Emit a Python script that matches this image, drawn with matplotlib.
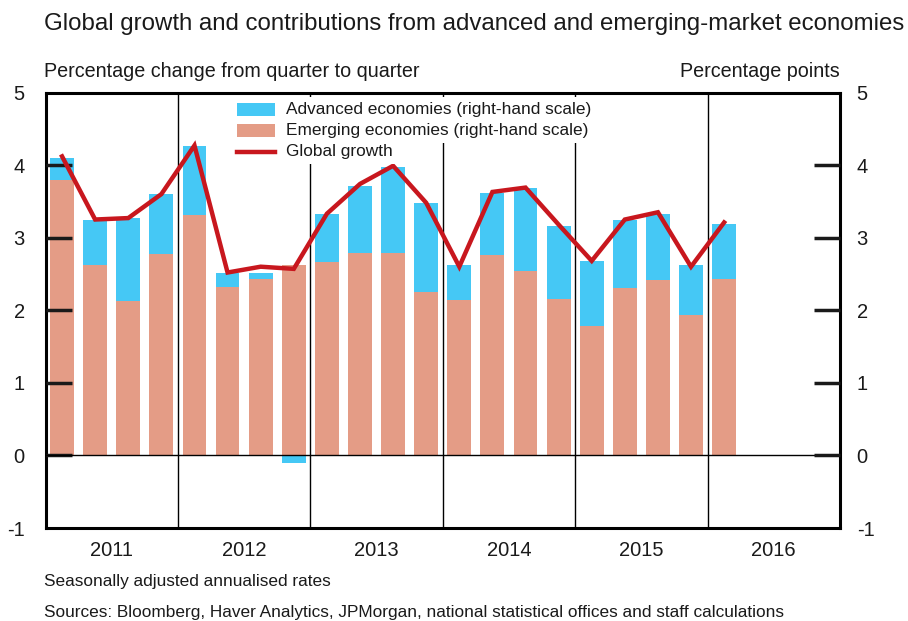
import matplotlib
matplotlib.use("Agg")
import matplotlib.pyplot as plt
from matplotlib.patches import Rectangle
from matplotlib.lines import Line2D

plt.rcParams['font.family'] = ['Liberation Sans', 'DejaVu Sans']

# Data (quarters 2011Q1 .. 2016Q1)
years = ['2011', '2012', '2013', '2014', '2015', '2016']
emerging = [3.80, 2.63, 2.13, 2.77, 3.31, 2.32, 2.43, 2.63, 2.66, 2.79, 2.79, 2.25,
            2.14, 2.76, 2.54, 2.15, 1.78, 2.30, 2.41, 1.94, 2.43]
advanced = [0.30, 0.62, 1.14, 0.83, 0.95, 0.20, 0.09, -0.10, 0.67, 0.92, 1.18, 1.23,
            0.48, 0.86, 1.15, 1.01, 0.90, 0.95, 0.92, 0.68, 0.76]
global_growth = [4.12, 3.25, 3.27, 3.60, 4.27, 2.52, 2.60, 2.57, 3.33, 3.74, 3.99, 3.48,
                 2.60, 3.63, 3.69, 3.18, 2.68, 3.25, 3.35, 2.60, 3.21]

BLUE = '#45C8F5'
SALMON = '#E49C86'
RED = '#C8171E'
TXT = '#1a1a1a'

W, H = 908, 621
fig = plt.figure(figsize=(W / 100, H / 100), dpi=100)
L, R, T, B = 45.5, 840, 92.5, 528
ax = fig.add_axes([L / W, 1 - B / H, (R - L) / W, (B - T) / H])
ax.set_axisbelow(False)

n = len(emerging)
x = [i + 0.5 for i in range(n)]
bw = 0.72
adv_bottom = [e if a >= 0 else 0 for e, a in zip(emerging, advanced)]
ax.bar(x, emerging, width=bw, color=SALMON, zorder=2)
ax.bar(x, advanced, width=bw, bottom=adv_bottom, color=BLUE, zorder=2)
ax.plot(x, global_growth, color=RED, lw=3.2, zorder=4, solid_joinstyle='miter')

ax.axhline(0, color='black', lw=1.0, zorder=3)
for k in range(1, len(years)):
    ax.axvline(4 * k, color='black', lw=1.0, zorder=1)

ax.set_xlim(0, 4 * len(years))
ax.set_ylim(-1, 5)
ax.set_yticks(range(-1, 6))
ax.set_yticklabels([str(v) for v in range(-1, 6)])
ax.set_xticks([4 * k + 2 for k in range(len(years))])
ax.set_xticklabels(years)
ax.tick_params(axis='x', length=0, pad=9, labelsize=14.5, colors=TXT)
ax.tick_params(axis='y', direction='in', length=19, width=2.5, pad=15,
               labelsize=14.5, colors=TXT)
for s in ax.spines.values():
    s.set_linewidth(2.2)

ax2 = ax.twinx()
ax2.set_ylim(-1, 5)
ax2.set_yticks(range(-1, 6))
ax2.set_yticklabels([str(v) for v in range(-1, 6)])
ax2.tick_params(axis='y', direction='in', length=19, width=2.5, pad=12,
                labelsize=14.5, colors=TXT)
for s in ax2.spines.values():
    s.set_visible(False)

for a in (ax, ax2):
    for t, v in zip(a.yaxis.get_major_ticks(), range(-1, 6)):
        if v in (-1, 5):
            t.tick1line.set_visible(False)
            t.tick2line.set_visible(False)

# Legend (manual, rows with white background)
labels = ['Advanced economies (right-hand scale)',
          'Emerging economies (right-hand scale)',
          'Global growth']
row_y = [109.5, 130.5, 151.5]
hx0, hx1, tx = 237, 275, 286.5
def fx(px):
    return (px - L) / (R - L)
def fy(py):
    return (B - py) / (B - T)
for lab, py in zip(labels, row_y):
    ax.text(fx(tx), fy(py), lab, transform=ax.transAxes, fontsize=12.4,
            color=TXT, va='center', ha='left', zorder=5,
            bbox=dict(facecolor='white', edgecolor='none', pad=3.5))
ax.add_patch(Rectangle((fx(hx0) - 0.01, fy(row_y[2] + 8)), fx(hx1) - fx(hx0) + 0.015,
                       fy(row_y[0] - 9) - fy(row_y[2] + 8), transform=ax.transAxes,
                       facecolor='white', edgecolor='none', zorder=5))
ax.add_patch(Rectangle((fx(hx0), fy(row_y[0] + 6.5)), fx(hx1) - fx(hx0), fy(row_y[0] - 6.5) - fy(row_y[0] + 6.5),
                       transform=ax.transAxes, facecolor=BLUE, edgecolor='none', zorder=6))
ax.add_patch(Rectangle((fx(hx0), fy(row_y[1] + 6.5)), fx(hx1) - fx(hx0), fy(row_y[1] - 6.5) - fy(row_y[1] + 6.5),
                       transform=ax.transAxes, facecolor=SALMON, edgecolor='none', zorder=6))
ax.add_line(Line2D([fx(hx0), fx(hx1)], [fy(row_y[2]), fy(row_y[2])], transform=ax.transAxes,
                   color=RED, lw=3.2, zorder=6))

# Titles and notes
fig.text(44 / W, 1 - 24 / H, 'Global growth and contributions from advanced and emerging-market economies',
         fontsize=17.3, color=TXT, ha='left', va='center')
fig.text(44 / W, 1 - 71.5 / H, 'Percentage change from quarter to quarter',
         fontsize=14.2, color=TXT, ha='left', va='center')
fig.text(840 / W, 1 - 71.5 / H, 'Percentage points',
         fontsize=14.2, color=TXT, ha='right', va='center')
fig.text(44 / W, 1 - 581.5 / H, 'Seasonally adjusted annualised rates',
         fontsize=12.4, color=TXT, ha='left', va='center')
fig.text(44 / W, 1 - 612 / H, 'Sources: Bloomberg, Haver Analytics, JPMorgan, national statistical offices and staff calculations',
         fontsize=12.4, color=TXT, ha='left', va='center')

fig.savefig('out.png', dpi=100)
